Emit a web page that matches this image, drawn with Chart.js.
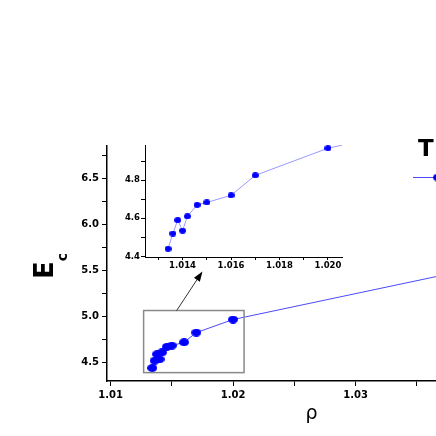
<!DOCTYPE html>
<html><head><meta charset="utf-8">
<script src="https://cdn.jsdelivr.net/npm/chart.js@4/dist/chart.umd.min.js"></script>
<style>
html,body{margin:0;padding:0;background:#fff;overflow:hidden;width:436px;height:436px;}
#wrap{position:relative;width:436px;height:436px;overflow:hidden;background:#fff;}
#main{position:absolute;left:0;top:0;}
#inset{position:absolute;left:100px;top:130px;}
</style></head><body>
<div id="wrap"><canvas id="main" width="520" height="436"></canvas><canvas id="inset" width="250" height="150"></canvas></div>
<script>
// ---- data (last point lies beyond the visible area and is estimated from the line slope) ----
const rho = [1.0134, 1.0136, 1.0138, 1.0140, 1.0142, 1.0146, 1.0150, 1.0160, 1.0170, 1.0200, 1.0400];
const Ec  = [4.44,   4.52,   4.59,   4.535,  4.61,   4.67,   4.683,  4.72,   4.825,  4.967,  5.53];

const mainXTicks  = [1.01, 1.015, 1.02, 1.025, 1.03, 1.035, 1.04];
const mainXLabels = [1.01, 1.02, 1.03, 1.04];
const mainYTicks  = [4.5, 4.75, 5.0, 5.25, 5.5, 5.75, 6.0, 6.25, 6.5, 6.75];
const mainYLabels = [4.5, 5.0, 5.5, 6.0, 6.5];

const insetXTicks  = [1.013, 1.014, 1.015, 1.016, 1.017, 1.018, 1.019, 1.020];
const insetXLabels = [1.014, 1.016, 1.018, 1.020];
const insetYTicks  = [4.4, 4.5, 4.6, 4.7, 4.8, 4.9];
const insetYLabels = [4.4, 4.6, 4.8];

const zoomBoxX = [1.0127, 1.0209];
const zoomBoxY = [4.39, 5.065];
const arrowFrom = [1.0154, 5.065];
const arrowTo   = [1.0175, 5.49];

const xTitle = 'ρ', yTitle = 'E', ySub = 'c', legendLabel = 'T';

// ---- drawing ----
Chart.defaults.font.family = "'DejaVu Sans', sans-serif";
Chart.defaults.color = '#000';
const isIn = (v, arr) => arr.some(a => Math.abs(a - v) < 1e-9);
const pts = rho.map((r, i) => ({x: r, y: Ec[i]}));
const MAIN_LINE = '#4a4aff', MARK = '#0000ff';

function ellipseMarker(w, h, color) {
  const c = document.createElement('canvas');
  c.width = w; c.height = h;
  const g = c.getContext('2d');
  g.fillStyle = color;
  g.beginPath(); g.ellipse(w / 2, h / 2, w / 2, h / 2, 0, 0, Math.PI * 2); g.fill();
  return c;
}
const mainMarker = ellipseMarker(10, 8, MARK);
const insetMarker = ellipseMarker(7, 6, MARK);

const annot = {
  id: 'annot',
  afterDraw(chart) {
    const {ctx, chartArea: ca, scales: {x, y}} = chart;
    ctx.save();
    // y title with subscript
    ctx.fillStyle = '#000';
    ctx.translate(ca.left - 54, 279);
    ctx.rotate(-Math.PI / 2);
    ctx.textAlign = 'left'; ctx.textBaseline = 'alphabetic';
    ctx.font = "bold 26px 'DejaVu Sans'";
    ctx.fillText(yTitle, 0, 0);
    const w = ctx.measureText(yTitle).width;
    ctx.font = "bold 14px 'DejaVu Sans'";
    ctx.fillText(ySub, w, 14);
    ctx.restore();

    // zoom box
    ctx.save();
    const bx0 = x.getPixelForValue(zoomBoxX[0]), bx1 = x.getPixelForValue(zoomBoxX[1]);
    const by0 = y.getPixelForValue(zoomBoxY[1]), by1 = y.getPixelForValue(zoomBoxY[0]);
    ctx.strokeStyle = '#8a8a8a'; ctx.lineWidth = 1.5;
    ctx.strokeRect(bx0, by0, bx1 - bx0, by1 - by0);
    // arrow
    const ax0 = x.getPixelForValue(arrowFrom[0]), ay0 = y.getPixelForValue(arrowFrom[1]);
    const ax1 = x.getPixelForValue(arrowTo[0]), ay1 = y.getPixelForValue(arrowTo[1]);
    const ang = Math.atan2(ay1 - ay0, ax1 - ax0);
    ctx.strokeStyle = '#000'; ctx.lineWidth = 0.8;
    ctx.beginPath(); ctx.moveTo(ax0, ay0);
    ctx.lineTo(ax1 - 8 * Math.cos(ang), ay1 - 8 * Math.sin(ang)); ctx.stroke();
    ctx.fillStyle = '#000';
    ctx.beginPath();
    ctx.moveTo(ax1, ay1);
    ctx.lineTo(ax1 - 10 * Math.cos(ang) + 3.5 * Math.sin(ang), ay1 - 10 * Math.sin(ang) - 3.5 * Math.cos(ang));
    ctx.lineTo(ax1 - 10 * Math.cos(ang) - 3.5 * Math.sin(ang), ay1 - 10 * Math.sin(ang) + 3.5 * Math.cos(ang));
    ctx.closePath(); ctx.fill();

    // legend
    ctx.fillStyle = '#000';
    ctx.font = "bold 23px 'DejaVu Sans'";
    ctx.textAlign = 'left'; ctx.textBaseline = 'alphabetic';
    ctx.fillText(legendLabel, 418, 156);
    ctx.strokeStyle = MAIN_LINE; ctx.lineWidth = 1;
    ctx.beginPath(); ctx.moveTo(413, 177.5); ctx.lineTo(466, 177.5); ctx.stroke();
    ctx.drawImage(mainMarker, 438 - 5, 177.5 - 4);
    ctx.restore();
  }
};

new Chart(document.getElementById('main'), {
  type: 'scatter',
  data: {datasets: [{
    data: pts, showLine: true, borderColor: MAIN_LINE, borderWidth: 1,
    pointStyle: mainMarker, pointRadius: 4, pointBackgroundColor: MARK, pointBorderWidth: 0, tension: 0
  }]},
  options: {
    responsive: false, animation: false, devicePixelRatio: 1,
    layout: {padding: {top: 146, right: 4, left: 0, bottom: 0}},
    plugins: {legend: {display: false}, tooltip: {enabled: false}},
    scales: {
      x: {
        type: 'linear', min: 1.00971, max: 1.0431,
        afterBuildTicks: s => { s.ticks = mainXTicks.map(v => ({value: v})); },
        afterFit: s => { s.height = 55; },
        ticks: {autoSkip: false, maxRotation: 0, color: '#000', padding: 3,
          font: {size: 10, weight: 'bold'},
          callback: v => isIn(v, mainXLabels) ? v.toFixed(2) : ''},
        grid: {drawOnChartArea: false, drawTicks: true, tickLength: 5, color: '#000', tickWidth: 1},
        border: {display: true, color: '#000', width: 1.5},
        title: {display: true, text: xTitle, color: '#000', font: {size: 19}, padding: {top: 0, bottom: 11}}
      },
      y: {
        type: 'linear', min: 4.299, max: 6.853,
        afterBuildTicks: s => { s.ticks = mainYTicks.map(v => ({value: v})); },
        afterFit: s => { s.width = 107; },
        ticks: {autoSkip: false, color: '#000', padding: 3,
          font: {size: 10, weight: 'bold'},
          callback: v => isIn(v, mainYLabels) ? v.toFixed(1) : ''},
        grid: {drawOnChartArea: false, drawTicks: true, tickLength: 5, color: '#000', tickWidth: 1},
        border: {display: true, color: '#000', width: 1.5}
      }
    }
  },
  plugins: [annot]
});

new Chart(document.getElementById('inset'), {
  type: 'scatter',
  data: {datasets: [{
    data: pts, showLine: true, borderColor: '#9999ff', borderWidth: 1,
    pointStyle: insetMarker, pointRadius: 3, pointBackgroundColor: MARK, pointBorderWidth: 0, tension: 0
  }]},
  options: {
    responsive: false, animation: false, devicePixelRatio: 1,
    layout: {padding: {top: 15, right: 8, left: 0, bottom: 0}},
    plugins: {legend: {display: false}, tooltip: {enabled: false}},
    scales: {
      x: {
        type: 'linear', min: 1.01245, max: 1.02058,
        afterBuildTicks: s => { s.ticks = insetXTicks.map(v => ({value: v})); },
        afterFit: s => { s.height = 23; },
        ticks: {autoSkip: false, maxRotation: 0, color: '#000', padding: 1,
          font: {size: 8.5, weight: 'bold'},
          callback: v => isIn(v, insetXLabels) ? v.toFixed(3) : ''},
        grid: {drawOnChartArea: false, drawTicks: true, tickLength: 3, color: '#000', tickWidth: 1},
        border: {display: true, color: '#000', width: 1}
      },
      y: {
        type: 'linear', min: 4.397, max: 4.984,
        afterBuildTicks: s => { s.ticks = insetYTicks.map(v => ({value: v})); },
        afterFit: s => { s.width = 45; },
        ticks: {autoSkip: false, color: '#000', padding: 1,
          font: {size: 8.5, weight: 'bold'},
          callback: v => isIn(v, insetYLabels) ? v.toFixed(1) : ''},
        grid: {drawOnChartArea: false, drawTicks: true, tickLength: 4, color: '#000', tickWidth: 1},
        border: {display: true, color: '#000', width: 1}
      }
    }
  }
});
</script>
</body></html>
